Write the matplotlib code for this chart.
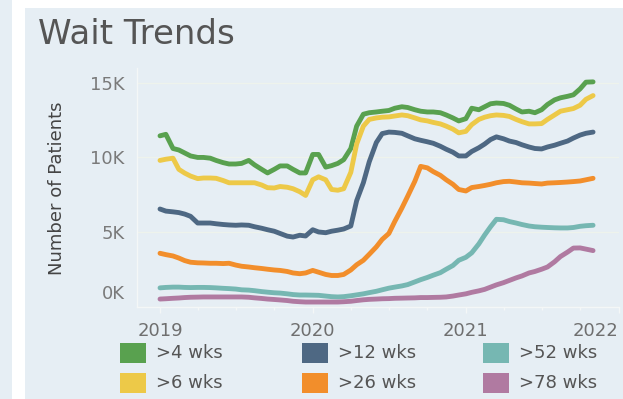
import numpy as np
import pandas as pd
import matplotlib
matplotlib.use("Agg")
import matplotlib.pyplot as plt
import matplotlib.dates as mdates
from matplotlib.patches import Rectangle
from matplotlib.ticker import FixedLocator, FuncFormatter
from matplotlib.transforms import ScaledTranslation

# semi-monthly snapshots, waiting list counts in thousands
dates = pd.date_range("2019-01-01", periods=69, freq="SMS")

wk4 = [11.45, 11.55, 10.6, 10.5, 10.3, 10.1, 10.0, 10.0, 9.95, 9.8,
       9.65, 9.56, 9.56, 9.6, 9.8, 9.5, 9.2, 8.96, 9.2, 9.43,
       9.43, 9.2, 8.96, 8.96, 10.2, 10.2, 9.35, 9.45, 9.6, 9.85,
       10.6, 12.1, 12.9, 13.0, 13.05, 13.1, 13.15, 13.3, 13.4, 13.35,
       13.2, 13.1, 13.05, 13.05, 13.0, 12.85, 12.65, 12.45, 12.6, 13.3,
       13.2, 13.4, 13.6, 13.65, 13.62, 13.5, 13.25, 13.05, 13.1, 13.0,
       13.2, 13.55, 13.86, 14.0, 14.1, 14.2, 14.6, 15.05, 15.07]
wk6 = [9.8, 9.88, 9.95, 9.2, 8.95, 8.75, 8.58, 8.62, 8.62, 8.6,
       8.45, 8.3, 8.3, 8.3, 8.3, 8.3, 8.15, 7.97, 7.95, 8.05,
       8.0, 7.9, 7.7, 7.45, 8.5, 8.7, 8.5, 7.85, 7.8, 7.9,
       9.0, 10.9, 12.1, 12.55, 12.65, 12.7, 12.72, 12.78, 12.85, 12.8,
       12.65, 12.52, 12.45, 12.35, 12.25, 12.1, 11.9, 11.65, 11.75, 12.2,
       12.55, 12.7, 12.8, 12.85, 12.82, 12.75, 12.55, 12.4, 12.25, 12.25,
       12.27, 12.55, 12.85, 13.1, 13.2, 13.28, 13.5, 13.9, 14.15]
wk12 = [6.54, 6.4, 6.35, 6.3, 6.2, 6.05, 5.6, 5.6, 5.6, 5.55,
        5.5, 5.47, 5.45, 5.47, 5.45, 5.35, 5.25, 5.15, 5.05, 4.9,
        4.72, 4.66, 4.78, 4.73, 5.15, 5.0, 4.95, 5.05, 5.12, 5.2,
        5.4, 7.1, 8.3, 9.7, 11.0, 11.6, 11.7, 11.68, 11.62, 11.45,
        11.25, 11.15, 11.05, 10.95, 10.75, 10.55, 10.35, 10.1, 10.1, 10.4,
        10.65, 10.9, 11.2, 11.38, 11.25, 11.1, 11.0, 10.85, 10.7, 10.6,
        10.57, 10.7, 10.82, 10.95, 11.1, 11.3, 11.5, 11.62, 11.7]
wk26 = [3.57, 3.48, 3.39, 3.25, 3.08, 2.97, 2.93, 2.92, 2.9, 2.9,
        2.88, 2.9, 2.78, 2.7, 2.65, 2.6, 2.55, 2.5, 2.45, 2.42,
        2.35, 2.25, 2.2, 2.25, 2.42, 2.3, 2.15, 2.08, 2.08, 2.15,
        2.45, 2.8, 3.1, 3.5, 4.0, 4.5, 4.9, 5.7, 6.6, 7.4,
        8.4, 9.4, 9.3, 9.05, 8.8, 8.5, 8.2, 7.85, 7.75, 7.98,
        8.05, 8.12, 8.2, 8.3, 8.38, 8.4, 8.35, 8.3, 8.28, 8.25,
        8.22, 8.28, 8.3, 8.32, 8.35, 8.38, 8.42, 8.5, 8.6]
wk52 = [1.25, 1.28, 1.3, 1.3, 1.28, 1.27, 1.28, 1.28, 1.27, 1.25,
        1.22, 1.2, 1.17, 1.12, 1.1, 1.06, 1.0, 0.96, 0.92, 0.9,
        0.85, 0.8, 0.77, 0.77, 0.76, 0.75, 0.7, 0.66, 0.64, 0.66,
        0.72, 0.78, 0.85, 0.93, 1.02, 1.12, 1.23, 1.3, 1.38, 1.47,
        1.65, 1.8, 1.95, 2.1, 2.27, 2.5, 2.75, 3.1, 3.3, 3.6,
        4.2, 4.8, 5.35, 5.85, 5.82, 5.7, 5.6, 5.5, 5.4, 5.35,
        5.32, 5.3, 5.28, 5.27, 5.27, 5.3, 5.38, 5.42, 5.45]
wk78 = [0.5, 0.52, 0.55, 0.57, 0.6, 0.62, 0.63, 0.64, 0.64, 0.64,
        0.64, 0.64, 0.64, 0.64, 0.62, 0.58, 0.54, 0.5, 0.47, 0.44,
        0.4, 0.35, 0.32, 0.3, 0.3, 0.3, 0.3, 0.3, 0.3, 0.32,
        0.35, 0.4, 0.45, 0.48, 0.5, 0.52, 0.53, 0.55, 0.56, 0.57,
        0.58, 0.6, 0.6, 0.61, 0.62, 0.64, 0.7, 0.77, 0.85, 0.95,
        1.05, 1.15, 1.3, 1.45, 1.6, 1.75, 1.92, 2.05, 2.25, 2.35,
        2.5, 2.65, 3.0, 3.35, 3.65, 3.92, 3.93, 3.85, 3.75]

labels = [">4 wks", ">6 wks", ">12 wks", ">26 wks", ">52 wks", ">78 wks"]
colors = ["#59a14f", "#edc948", "#4e6883", "#f28e2b", "#76b7b2", "#b07aa1"]
series = [wk4, wk6, wk12, wk26, wk52, wk78]

y_ticks = [0, 5000, 10000, 15000]
year_ticks = pd.to_datetime(["2019-01-01", "2020-01-01", "2021-01-01", "2022-01-01"])

W, H = 623, 399
panel = "#e6eef4"
fig = plt.figure(figsize=(W / 100, H / 100), dpi=100, facecolor="white")

# dashboard panel backgrounds
fig.patches.append(Rectangle((0, 0), 12 / W, 1, transform=fig.transFigure,
                             facecolor=panel, edgecolor="none", zorder=-10))
fig.patches.append(Rectangle((25 / W, 0), 1, 1 - 8 / H, transform=fig.transFigure,
                             facecolor=panel, edgecolor="none", zorder=-10))

ax = fig.add_axes([137 / W, 1 - 306.5 / H, 482 / W, 238.5 / H])
ax.set_facecolor(panel)

for vals, col in zip(series, colors):
    ax.plot(dates, np.array(vals) * 1000, color=col, lw=3.5,
            solid_capstyle="round", solid_joinstyle="round")

ax.set_ylim(0, 16000)
ax.set_xlim(pd.Timestamp("2018-11-07"), pd.Timestamp("2022-01-02"))

ax.yaxis.set_major_locator(FixedLocator(y_ticks))
ax.yaxis.set_major_formatter(FuncFormatter(lambda v, p: f"{v / 1000:.0f}K"))
ax.set_xticks(year_ticks)
ax.set_xticklabels([d.strftime("%Y") for d in year_ticks])
ax.xaxis.set_minor_locator(mdates.MonthLocator(bymonth=[4, 7, 10]))

ax.tick_params(axis="y", length=0, pad=9, labelsize=13, labelcolor="#7a7a7a")
ax.tick_params(axis="x", which="major", length=4, width=1, color="#f4f7f7",
               pad=7, labelsize=13, labelcolor="#6f6f6f")
ax.tick_params(axis="x", which="minor", length=2.5, width=1, color="#f4f7f7")

ax.grid(axis="y", color="#eef3ec", lw=1)
for s in ["top", "right"]:
    ax.spines[s].set_visible(False)
for s in ["left", "bottom"]:
    ax.spines[s].set_color("#f4f7f7")
    ax.spines[s].set_linewidth(1)

# keep the edge labels inside the panel
ylabs = ax.get_yticklabels()
ylabs[0].set_transform(ylabs[0].get_transform()
                       + ScaledTranslation(0, 0.145, fig.dpi_scale_trans))
ax.get_xticklabels()[-1].set_horizontalalignment("right")

fig.text(38 / W, 1 - 44 / H, "Wait Trends", fontsize=24.5, color="#555555",
         va="baseline", ha="left")
fig.text(57 / W, 1 - 188 / H, "Number of Patients", fontsize=13, color="#444444",
         rotation=90, ha="center", va="center")

# legend: three columns, two rows
col_x = [120, 302, 483]
row_y = [343, 373]
for i, (lab, col) in enumerate(zip(labels, colors)):
    cx, ry = col_x[i // 2], row_y[i % 2]
    fig.patches.append(Rectangle((cx / W, 1 - (ry + 20) / H), 26 / W, 20 / H,
                                 transform=fig.transFigure, facecolor=col,
                                 edgecolor="none"))
    fig.text((cx + 36) / W, 1 - (ry + 10) / H, lab, fontsize=13,
             color="#555555", va="center", ha="left")

fig.savefig("out.png", dpi=100, facecolor=fig.get_facecolor())
